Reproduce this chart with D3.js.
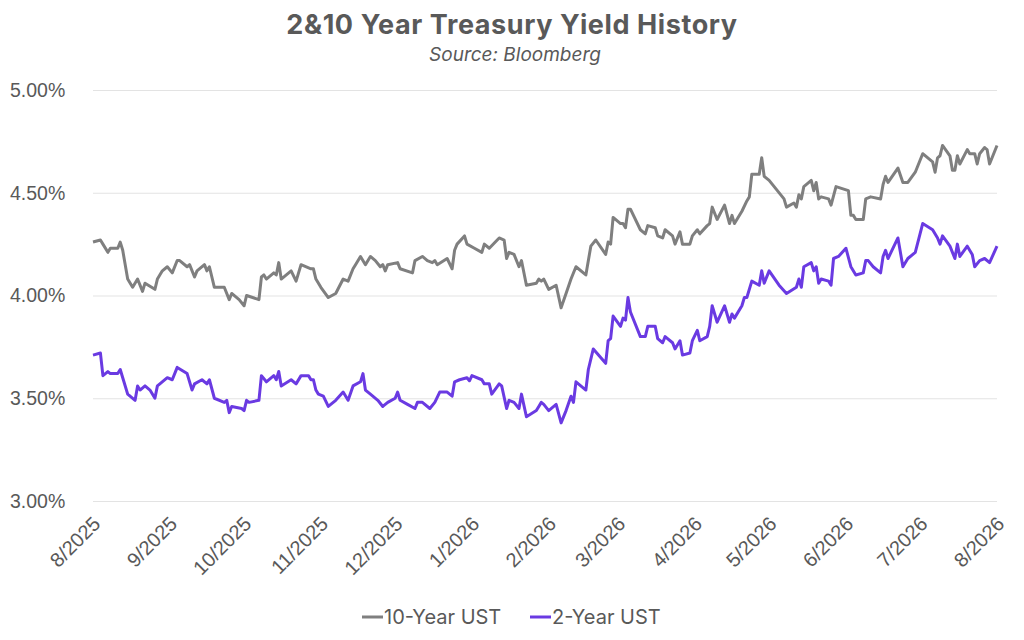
<!DOCTYPE html>
<html>
<head>
<meta charset="utf-8">
<script src="https://cdn.jsdelivr.net/npm/d3@7"></script>
<style>
  body { margin: 0; background: #fff; }
  svg { font-family: "Inter", "Noto Sans", sans-serif; }
</style>
</head>
<body>
<div id="chart"></div>
<script>
// data (daily closes, thinned)
const tenYearDates = ["2025-08-01","2025-08-04","2025-08-05","2025-08-07","2025-08-08","2025-08-11","2025-08-12","2025-08-13","2025-08-15","2025-08-17","2025-08-19","2025-08-21","2025-08-22","2025-08-26","2025-08-27","2025-08-29","2025-08-31",
  "2025-09-02","2025-09-04","2025-09-05","2025-09-08","2025-09-09","2025-09-11","2025-09-12","2025-09-15","2025-09-16","2025-09-17","2025-09-19","2025-09-23","2025-09-25","2025-09-26","2025-09-29",
  "2025-10-01","2025-10-02","2025-10-07","2025-10-08","2025-10-09","2025-10-10","2025-10-13","2025-10-14","2025-10-15","2025-10-16","2025-10-20","2025-10-22","2025-10-24","2025-10-28","2025-10-29","2025-10-30",
  "2025-11-01","2025-11-04","2025-11-07","2025-11-10","2025-11-12","2025-11-14","2025-11-15","2025-11-17","2025-11-19","2025-11-21","2025-11-23","2025-11-25","2025-11-26","2025-11-27","2025-11-28",
  "2025-12-02","2025-12-03","2025-12-08","2025-12-09","2025-12-12","2025-12-14","2025-12-16","2025-12-17","2025-12-18","2025-12-22","2025-12-24","2025-12-25","2025-12-26","2025-12-29","2025-12-30",
  "2026-01-02","2026-01-05","2026-01-06","2026-01-08","2026-01-12","2026-01-14","2026-01-15","2026-01-16","2026-01-18","2026-01-20","2026-01-21","2026-01-23","2026-01-27","2026-01-28","2026-01-29","2026-01-30",
  "2026-02-01","2026-02-04","2026-02-06","2026-02-08","2026-02-10","2026-02-12","2026-02-16","2026-02-18","2026-02-20","2026-02-24","2026-02-25","2026-02-26","2026-02-27",
  "2026-03-02","2026-03-03","2026-03-04","2026-03-05","2026-03-06","2026-03-10","2026-03-12","2026-03-13","2026-03-16","2026-03-17","2026-03-19","2026-03-20","2026-03-23","2026-03-24","2026-03-26","2026-03-27","2026-03-30","2026-03-31",
  "2026-04-02","2026-04-03","2026-04-06","2026-04-07","2026-04-08","2026-04-10","2026-04-13","2026-04-15","2026-04-16","2026-04-17","2026-04-20","2026-04-22","2026-04-23","2026-04-24","2026-04-27","2026-04-28","2026-04-29",
  "2026-05-01","2026-05-07","2026-05-08","2026-05-11","2026-05-12","2026-05-13","2026-05-14","2026-05-15","2026-05-18","2026-05-19","2026-05-20","2026-05-21","2026-05-22","2026-05-25","2026-05-26","2026-05-28",
  "2026-06-02","2026-06-03","2026-06-04","2026-06-05","2026-06-08","2026-06-09","2026-06-11","2026-06-15","2026-06-16","2026-06-17","2026-06-18","2026-06-22","2026-06-24","2026-06-26","2026-06-29",
  "2026-07-02","2026-07-06","2026-07-07","2026-07-08","2026-07-09","2026-07-10","2026-07-13","2026-07-14","2026-07-15","2026-07-16","2026-07-17","2026-07-20","2026-07-21","2026-07-23","2026-07-24","2026-07-25","2026-07-27","2026-07-28","2026-07-29","2026-08-01"];
const tenYearValues = [4.26,4.27,4.25,4.21,4.23,4.23,4.26,4.22,4.08,4.04,4.08,4.02,4.06,4.03,4.08,4.12,4.14,
  4.11,4.17,4.17,4.14,4.15,4.09,4.12,4.15,4.12,4.14,4.04,4.04,3.98,4.01,3.98,
  3.95,4.00,3.98,4.09,4.10,4.08,4.11,4.10,4.16,4.08,4.12,4.07,4.15,4.13,4.13,4.08,
  4.04,3.99,4.01,4.08,4.07,4.13,4.15,4.19,4.15,4.19,4.17,4.14,4.15,4.12,4.15,
  4.16,4.13,4.11,4.17,4.19,4.17,4.16,4.17,4.15,4.18,4.13,4.22,4.25,4.29,4.25,
  4.23,4.21,4.25,4.23,4.28,4.27,4.18,4.21,4.20,4.14,4.17,4.05,4.06,4.08,4.07,4.08,
  4.03,4.05,3.94,4.01,4.08,4.14,4.10,4.24,4.27,4.20,4.26,4.25,4.38,
  4.35,4.35,4.33,4.42,4.42,4.32,4.30,4.34,4.33,4.29,4.28,4.32,4.29,4.25,4.31,4.25,4.25,4.29,
  4.32,4.30,4.34,4.35,4.43,4.37,4.44,4.35,4.39,4.35,4.41,4.46,4.48,4.59,4.59,4.67,4.58,
  4.56,4.47,4.43,4.45,4.43,4.49,4.47,4.53,4.56,4.51,4.55,4.47,4.48,4.47,4.44,4.53,
  4.51,4.39,4.39,4.37,4.37,4.47,4.48,4.47,4.54,4.58,4.55,4.62,4.55,4.55,4.60,
  4.69,4.65,4.60,4.67,4.68,4.73,4.68,4.61,4.61,4.68,4.64,4.71,4.69,4.69,4.64,4.69,4.72,4.71,4.64,4.73];

const twoYearDates = ["2025-08-01","2025-08-04","2025-08-05","2025-08-07","2025-08-08","2025-08-11","2025-08-12","2025-08-13","2025-08-15","2025-08-18","2025-08-19","2025-08-20","2025-08-22","2025-08-24","2025-08-26","2025-08-27","2025-08-28","2025-08-31",
  "2025-09-02","2025-09-04","2025-09-08","2025-09-10","2025-09-11","2025-09-14","2025-09-16","2025-09-17","2025-09-19","2025-09-23","2025-09-24","2025-09-25","2025-09-26","2025-09-30",
  "2025-10-01","2025-10-02","2025-10-03","2025-10-07","2025-10-08","2025-10-10","2025-10-13","2025-10-14","2025-10-15","2025-10-16","2025-10-20","2025-10-22","2025-10-24","2025-10-27","2025-10-28","2025-10-29","2025-10-30","2025-10-31",
  "2025-11-02","2025-11-04","2025-11-07","2025-11-10","2025-11-12","2025-11-14","2025-11-17","2025-11-18","2025-11-19","2025-11-21","2025-11-24","2025-11-26","2025-11-28",
  "2025-12-01","2025-12-02","2025-12-03","2025-12-06","2025-12-09","2025-12-10","2025-12-12","2025-12-15","2025-12-17","2025-12-19","2025-12-22","2025-12-24","2025-12-25","2025-12-27","2025-12-30","2025-12-31",
  "2026-01-01","2026-01-05","2026-01-06","2026-01-08","2026-01-09","2026-01-12","2026-01-13","2026-01-15","2026-01-16","2026-01-18","2026-01-20","2026-01-21","2026-01-23","2026-01-27","2026-01-28","2026-01-29","2026-01-30",
  "2026-02-01","2026-02-04","2026-02-06","2026-02-08","2026-02-10","2026-02-11","2026-02-12","2026-02-16","2026-02-17","2026-02-19","2026-02-24","2026-02-25","2026-02-26","2026-02-27",
  "2026-03-02","2026-03-03","2026-03-04","2026-03-05","2026-03-06","2026-03-10","2026-03-12","2026-03-13","2026-03-16","2026-03-17","2026-03-19","2026-03-20","2026-03-23","2026-03-24","2026-03-26","2026-03-27","2026-03-30","2026-03-31",
  "2026-04-02","2026-04-03","2026-04-06","2026-04-07","2026-04-08","2026-04-10","2026-04-13","2026-04-15","2026-04-16","2026-04-17","2026-04-20","2026-04-21","2026-04-22","2026-04-24","2026-04-27","2026-04-28","2026-04-29",
  "2026-05-01","2026-05-05","2026-05-08","2026-05-12","2026-05-13","2026-05-14","2026-05-15","2026-05-18","2026-05-19","2026-05-20","2026-05-21","2026-05-22","2026-05-25","2026-05-26","2026-05-27","2026-05-29",
  "2026-06-01","2026-06-03","2026-06-05","2026-06-08","2026-06-09","2026-06-10","2026-06-12","2026-06-15","2026-06-16","2026-06-17","2026-06-18","2026-06-22","2026-06-24","2026-06-26","2026-06-29",
  "2026-07-02","2026-07-06","2026-07-08","2026-07-09","2026-07-10","2026-07-13","2026-07-15","2026-07-16","2026-07-17","2026-07-20","2026-07-22","2026-07-23","2026-07-25","2026-07-27","2026-07-29","2026-08-01"];
const twoYearValues = [3.71,3.72,3.61,3.63,3.62,3.62,3.64,3.60,3.52,3.49,3.56,3.54,3.56,3.54,3.50,3.56,3.57,3.60,
  3.59,3.65,3.62,3.54,3.57,3.59,3.57,3.59,3.50,3.48,3.49,3.43,3.46,3.45,
  3.44,3.49,3.48,3.49,3.61,3.58,3.61,3.59,3.63,3.56,3.59,3.57,3.61,3.61,3.59,3.59,3.54,3.52,
  3.51,3.46,3.49,3.53,3.49,3.56,3.58,3.62,3.54,3.52,3.49,3.46,3.48,
  3.50,3.53,3.49,3.47,3.45,3.48,3.48,3.45,3.48,3.53,3.53,3.51,3.58,3.59,3.60,3.585,
  3.61,3.59,3.57,3.57,3.52,3.57,3.56,3.45,3.49,3.48,3.45,3.52,3.41,3.44,3.46,3.48,3.47,
  3.44,3.47,3.38,3.44,3.51,3.48,3.58,3.54,3.64,3.74,3.67,3.78,3.79,3.90,
  3.85,3.89,3.88,3.99,3.92,3.80,3.80,3.85,3.85,3.79,3.77,3.80,3.77,3.74,3.78,3.71,3.72,3.78,
  3.83,3.78,3.80,3.85,3.95,3.87,3.95,3.87,3.91,3.89,3.95,3.99,3.99,4.07,4.05,4.12,4.06,
  4.12,4.05,4.01,4.04,4.08,4.04,4.14,4.16,4.12,4.14,4.06,4.08,4.07,4.05,4.18,4.19,
  4.23,4.14,4.10,4.11,4.17,4.17,4.14,4.11,4.19,4.22,4.18,4.28,4.14,4.18,4.21,
  4.35,4.32,4.28,4.25,4.29,4.24,4.18,4.25,4.19,4.24,4.20,4.14,4.17,4.18,4.16,4.24];

const yTicks = [3.0, 3.5, 4.0, 4.5, 5.0];
const seriesNames = ["10-Year UST", "2-Year UST"];
const seriesColors = ["#7f7f7f", "#6a3ae2"];

const W = 1024, H = 640;
const margin = {top: 90, right: 27, bottom: 139, left: 93};

const parse = d3.timeParse("%Y-%m-%d");
const series = [
  tenYearDates.map((d, i) => ({date: parse(d), value: tenYearValues[i]})),
  twoYearDates.map((d, i) => ({date: parse(d), value: twoYearValues[i]}))
];

const svg = d3.select("#chart")
  .append("svg")
    .attr("width", W)
    .attr("height", H);

const x = d3.scaleTime()
  .domain([parse("2025-08-01"), parse("2026-08-01")])
  .range([margin.left, W - margin.right]);

const y = d3.scaleLinear()
  .domain([3, 5])
  .range([H - margin.bottom, margin.top]);

// gridlines + y labels
const yAxis = svg.append("g")
  .attr("transform", `translate(${margin.left},0)`)
  .call(d3.axisLeft(y)
    .tickValues(yTicks)
    .tickSize(-(W - margin.left - margin.right))
    .tickFormat(d => d3.format(".2f")(d) + "%"));
yAxis.select(".domain").remove();
yAxis.selectAll(".tick line").attr("stroke", "#e3e3e3");
yAxis.selectAll(".tick text")
  .attr("fill", "#595959")
  .attr("font-size", "19.5px")
  .attr("text-anchor", "start")
  .attr("x", -83);

// x axis, rotated month labels
const xAxis = svg.append("g")
  .attr("transform", `translate(0,${H - margin.bottom})`)
  .call(d3.axisBottom(x)
    .ticks(d3.timeMonth.every(1))
    .tickSize(0)
    .tickFormat(d3.timeFormat("%-m/%Y")));
xAxis.select(".domain").remove();
xAxis.selectAll(".tick text")
  .attr("fill", "#595959")
  .attr("font-size", "20px")
  .attr("text-anchor", "end")
  .attr("dy", "0")
  .attr("transform", "translate(6,22)rotate(-45)");

// lines
const line = d3.line()
  .x(d => x(d.date))
  .y(d => y(d.value));

svg.selectAll(".series")
  .data(series)
  .join("path")
    .attr("class", "series")
    .attr("d", line)
    .attr("fill", "none")
    .attr("stroke", (d, i) => seriesColors[i])
    .attr("stroke-width", 3)
    .attr("stroke-linejoin", "round");

// title
svg.append("text")
  .attr("x", 512)
  .attr("y", 34)
  .attr("text-anchor", "middle")
  .attr("font-size", "27px")
  .attr("font-weight", 700)
  .attr("letter-spacing", "0.6px")
  .attr("fill", "#595959")
  .text("2&10 Year Treasury Yield History");

svg.append("text")
  .attr("x", 515)
  .attr("y", 61)
  .attr("text-anchor", "middle")
  .attr("font-size", "19px")
  .attr("font-style", "italic")
  .attr("fill", "#595959")
  .text("Source: Bloomberg");

// legend
const legendX = [362, 530];
const legend = svg.selectAll(".legend")
  .data(seriesNames)
  .join("g")
    .attr("class", "legend")
    .attr("transform", (d, i) => `translate(${legendX[i]},617)`);
legend.append("line")
  .attr("x1", 0).attr("x2", 21)
  .attr("y1", 0).attr("y2", 0)
  .attr("stroke", (d, i) => seriesColors[i])
  .attr("stroke-width", 3);
legend.append("text")
  .attr("x", 22)
  .attr("y", 7)
  .attr("font-size", "20px")
  .attr("fill", "#595959")
  .text(d => d);
</script>
</body>
</html>
